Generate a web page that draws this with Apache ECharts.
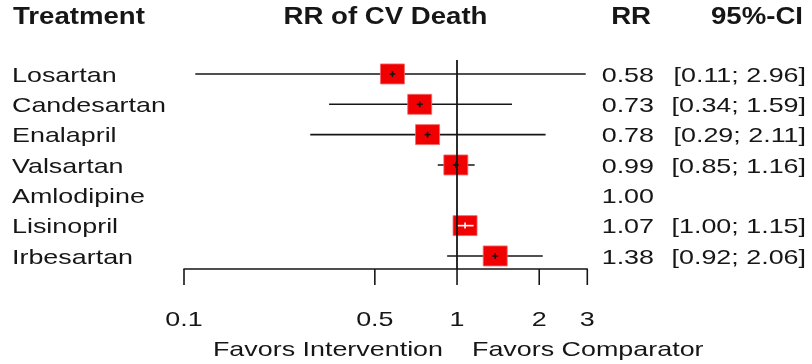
<!DOCTYPE html>
<html>
<head>
<meta charset="utf-8">
<script src="https://cdn.jsdelivr.net/npm/echarts@6/dist/echarts.min.js"></script>
<style>
  html, body { margin: 0; padding: 0; background: #ffffff; }
  #chart { width: 812px; height: 364px; }
</style>
</head>
<body>
<div id="chart"></div>
<script>
// Relative risk of cardiovascular death by treatment (Amlodipine is the reference).
const treatments = ['Losartan', 'Candesartan', 'Enalapril', 'Valsartan', 'Amlodipine', 'Lisinopril', 'Irbesartan'];
const riskRatio  = [0.58, 0.73, 0.78, 0.99, 1.00, 1.07, 1.38];
const ciLower    = [0.11, 0.34, 0.29, 0.85, null, 1.00, 0.92];
const ciUpper    = [2.96, 1.59, 2.11, 1.16, null, 1.15, 2.06];
const tickValues = [0.1, 0.5, 1, 2, 3];
const tickLabels = ['0.1', '0.5', '1', '2', '3'];
const headerLabels = ['Treatment', 'RR of CV Death', 'RR', '95%-CI'];
const favorLabels = ['Favors Intervention', 'Favors Comparator'];

const FONT = '"Liberation Sans", Arial, sans-serif';
const INK = '#161616';
const BOX = '#f00000';
const STRETCH = 1.28;      // horizontal stretch of the text glyphs

const fmt = v => v.toFixed(2);

const forestData = treatments.map((t, i) => [riskRatio[i], i, ciLower[i], ciUpper[i]]);
const tickData = tickValues.map((v, i) => [v, i]);

function txt(x, y, text, align, size, weight, stretch) {
  return {
    type: 'text', x: x, y: y, scaleX: stretch || STRETCH,
    style: {
      text: text, x: 0, y: 0, fill: INK,
      fontSize: size, fontFamily: FONT, fontWeight: weight || 'normal',
      align: align, verticalAlign: 'middle',
      textAlign: align, textVerticalAlign: 'middle'
    }
  };
}

// interval line, box, centre mark and text columns for each treatment
function renderForest(params, api) {
  const i = api.value(1);
  const est = api.value(0);
  const lo = api.value(2);
  const hi = api.value(3);
  const c = api.coord([est, i]);
  const y = c[1] + 2;
  const children = [
    txt(12, y, treatments[i], 'left', 21),
    txt(654, y, fmt(riskRatio[i]), 'right', 21)
  ];
  if (ciLower[i] != null) {
    children.push(txt(806, y, '[' + fmt(ciLower[i]) + '; ' + fmt(ciUpper[i]) + ']', 'right', 21));
  }
  if (isNaN(lo) || isNaN(hi) || ciLower[i] == null) {
    return { type: 'group', children: children };
  }
  const pLo = api.coord([lo, i]);
  const pHi = api.coord([hi, i]);
  const w = 24, h = 20;
  const inside = pLo[0] >= c[0] - w / 2 && pHi[0] <= c[0] + w / 2;
  children.push({
    type: 'line',
    shape: { x1: pLo[0], y1: c[1], x2: pHi[0], y2: c[1] },
    style: { stroke: INK, lineWidth: 1.6 }
  });
  children.push({
    type: 'rect',
    shape: { x: c[0] - w / 2, y: c[1] - h / 2, width: w, height: h },
    style: { fill: BOX, stroke: '#f36a6a', lineWidth: 0.8 }
  });
  const markColor = inside ? '#ffffff' : INK;
  const x1 = inside ? pLo[0] : c[0] - 3;
  const x2 = inside ? pHi[0] : c[0] + 3;
  children.push({
    type: 'line',
    shape: { x1: x1, y1: c[1], x2: x2, y2: c[1] },
    style: { stroke: markColor, lineWidth: 1.6 }
  });
  children.push({
    type: 'line',
    shape: { x1: c[0], y1: c[1] - 3, x2: c[0], y2: c[1] + 3 },
    style: { stroke: markColor, lineWidth: 1.6 }
  });
  return { type: 'group', children: children };
}

// ticks and labels of the log axis
function renderTicks(params, api) {
  const i = api.value(1);
  const bottom = params.coordSys.y + params.coordSys.height;
  const x = api.coord([api.value(0), 0])[0];
  return {
    type: 'group',
    children: [
      { type: 'line', shape: { x1: x, y1: bottom, x2: x, y2: bottom + 16 },
        style: { stroke: INK, lineWidth: 1.6 } },
      txt(x, bottom + 51, tickLabels[i], 'center', 21)
    ]
  };
}

const chart = echarts.init(document.getElementById('chart'), null, { renderer: 'canvas' });

chart.setOption({
  animation: false,
  backgroundColor: '#ffffff',
  grid: { left: 184, top: 60, width: 403.3, height: 209, containLabel: false },
  xAxis: {
    type: 'log', logBase: 10, min: 0.1, max: 3,
    axisLine: { show: true, onZero: false, lineStyle: { color: INK, width: 1.6 } },
    axisTick: { show: false },
    axisLabel: { show: false },
    splitLine: { show: false }
  },
  yAxis: {
    type: 'value', inverse: true, min: -0.46, max: 6.43, show: false,
    splitLine: { show: false }
  },
  graphic: [
    txt(13, 18, headerLabels[0], 'left', 23, 'bold', 1.2),
    txt(385.5, 18, headerLabels[1], 'center', 23, 'bold', 1.2),
    txt(651, 18, headerLabels[2], 'right', 23, 'bold', 1.2),
    txt(803, 18, headerLabels[3], 'right', 23, 'bold', 1.2),
    txt(443, 350, favorLabels[0], 'right', 21),
    txt(472, 350, favorLabels[1], 'left', 21)
  ],
  series: [
    {
      name: 'RR', type: 'custom', clip: false,
      data: forestData,
      encode: { x: 0, y: 1 },
      renderItem: renderForest,
      markLine: {
        silent: true, symbol: 'none', animation: false,
        label: { show: false },
        lineStyle: { color: INK, width: 1.8, type: 'solid' },
        data: [{ xAxis: 1 }]
      },
      z: 3
    },
    {
      name: 'ticks', type: 'custom', clip: false,
      data: tickData,
      encode: { x: 0, y: 1 },
      renderItem: renderTicks,
      z: 2
    }
  ]
});
</script>
</body>
</html>
